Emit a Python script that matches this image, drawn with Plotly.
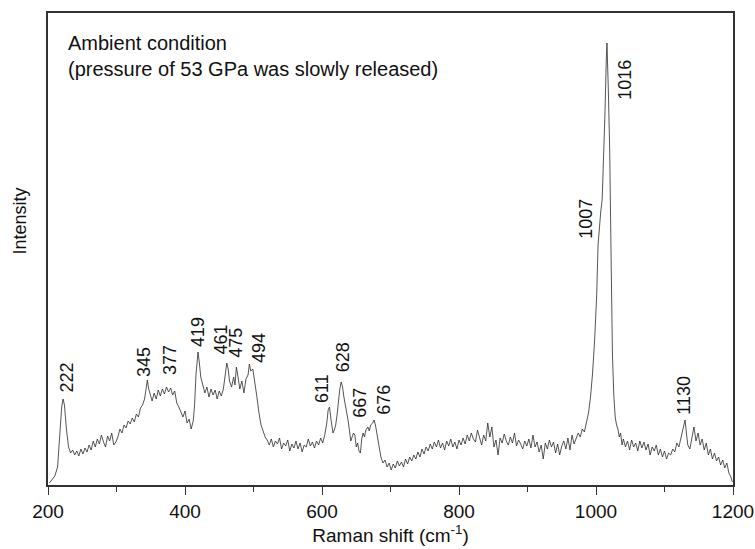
import plotly.graph_objects as go

# Raman spectrum (arbitrary intensity units)
raman_shift = [
    202, 206, 210, 214, 217, 220, 222, 224, 227, 230, 233, 236, 239,
    242, 245, 248, 251, 254, 257, 260, 263, 266, 269, 272, 275, 278, 281, 284, 287, 290, 293, 296, 299,
    302, 305, 308, 311, 314, 317, 320, 323, 326, 329, 332, 335, 338, 341, 343, 345, 347, 349,
    352, 355, 358, 361, 364, 367, 370, 373, 376, 379, 382, 385, 388, 391, 394, 397, 400, 403, 406, 409,
    412, 414, 416, 418, 419, 421, 423, 426,
    429, 432, 435, 438, 441, 444, 447, 450, 453, 456, 458, 461, 463, 465, 468, 471, 473, 475, 477, 480,
    483, 486, 489, 492, 494, 496, 499, 502,
    505, 508, 511, 514, 517, 520, 523, 526, 529, 532, 535, 538, 541, 544, 547, 550, 553, 556, 559, 562,
    565, 568, 571, 574, 577, 580, 583, 586, 589, 592, 595, 598, 601, 604, 607, 609, 611, 613, 616, 618,
    620, 622, 624, 626, 628, 630, 632, 634, 636, 638, 640, 642, 644, 646, 648, 650, 652, 654, 656, 658,
    660, 662, 664, 667, 669, 671, 674, 676, 678, 680, 682, 684, 686, 689, 692, 695, 698, 701, 704, 707,
    710, 713, 716, 719, 722, 725, 728, 731, 734, 737, 740, 743, 746, 749, 752, 755, 758,
    761, 764, 767, 770, 773, 776, 779, 782, 785, 788, 791, 794, 797, 800, 803, 806, 809, 812, 815, 818,
    821, 824, 827, 830, 833, 836, 839, 842, 845, 848, 851, 854, 857, 860, 863, 866, 869, 872, 875, 878,
    881, 884, 887, 890, 893, 896, 899, 902, 905, 908, 911, 914, 917, 920, 923, 926, 929, 932, 935, 938,
    941, 944, 947, 950, 953, 956, 959, 962, 965, 968, 971, 974, 977, 980, 983, 986, 989, 992, 995, 998,
    1001, 1003, 1005, 1007, 1009, 1011, 1013, 1015, 1016, 1018, 1020, 1022, 1024, 1026, 1028, 1030,
    1032, 1034, 1036, 1038, 1040, 1043, 1046, 1049, 1052, 1055, 1058, 1061, 1064, 1067, 1070, 1073,
    1076, 1079, 1082, 1085, 1088, 1091, 1094, 1097, 1100, 1103, 1106, 1109, 1112, 1115, 1118, 1121,
    1124, 1127, 1130, 1132, 1134, 1137, 1140, 1143, 1146, 1149, 1152, 1155, 1158, 1161, 1164, 1167,
    1170, 1173, 1176, 1179, 1182, 1185, 1188, 1191, 1194, 1197, 1199,
]
intensity = [
    2, 5, 9, 18, 45, 78, 86, 80, 55, 38, 32, 35, 30,
    34, 29, 36, 31, 37, 33, 40, 35, 44, 38, 46, 41, 50, 43, 38, 49, 44, 52, 40, 43,
    48, 56, 52, 60, 57, 64, 61, 67, 63, 71, 68, 77, 80, 86, 98, 105, 96, 90,
    84, 92, 86, 95, 89, 96, 91, 98, 93, 97, 90, 94, 82, 78, 72, 68, 74, 62, 66, 56,
    64, 80, 110, 128, 133, 122, 108, 100,
    92, 98, 88, 96, 90, 95, 86, 94, 89, 96, 108, 122, 116, 104, 98, 108, 100, 118, 110, 96,
    104, 92, 106, 110, 121, 114, 116, 104,
    88, 72, 60, 54, 48, 45, 40, 46, 38, 44, 41, 47, 36, 42, 39, 45, 34, 41, 37, 44,
    36, 42, 33, 40, 38, 46, 39, 43, 37, 44, 40, 47, 42, 50, 62, 75, 78, 66, 52, 55,
    60, 70, 85, 96, 103, 98, 88, 80, 76, 65, 55, 44, 48, 52, 50, 38, 42, 34, 32, 46,
    52, 48, 55, 58, 54, 60, 62, 65, 60, 52, 42, 32, 28, 22, 25, 18, 22, 15, 21, 17,
    24, 19, 23, 18, 26, 21, 28, 24, 30, 26, 33, 28, 36, 31, 38, 34, 41,
    36, 43, 38, 45, 37, 42, 35, 44, 39, 46, 38, 43, 36, 45, 40, 47, 41, 50, 44, 52,
    46, 43, 55, 47, 40, 50, 44, 62, 48, 58, 38, 45, 30, 47, 42, 51, 44, 40, 48, 42,
    52, 39, 45, 41, 36, 44, 39, 46, 37, 50, 38, 43, 33, 40, 26, 42, 36, 45, 38, 43,
    32, 41, 30, 39, 44, 36, 47, 35, 50, 41, 46, 52, 48, 56, 53, 62, 72, 88, 112, 145,
    190, 240, 262, 274, 285, 320, 370, 425, 442, 395, 335, 230, 130, 90, 68, 60,
    56, 48, 52, 40, 46, 38, 44, 35, 45, 38, 42, 34, 44, 37, 43, 35,
    41, 30, 38, 34, 40, 30, 36, 28, 34, 26, 32, 30, 36, 33, 42, 38,
    48, 55, 65, 52, 40, 36, 48, 58, 44, 52, 40, 46, 35, 42, 30, 36,
    26, 32, 24, 28, 20, 25, 17, 22, 12, 8, 3,
]

# Peak labels: text and label position (x in cm^-1, y in intensity units)
peak_labels = ["222", "345", "377", "419", "461", "475", "494", "611", "628",
               "667", "676", "1007", "1016", "1130"]
label_x = [227, 340, 378, 419, 452, 474, 508, 600, 631, 655, 690, 985, 1042, 1128]
label_y = [107, 123, 125, 153, 145, 142, 137, 96, 128, 82, 85, 266, 405, 90]

x_ticks = [200, 400, 600, 800, 1000, 1200]

FONT = "Liberation Sans, Arial"

fig = go.Figure()
fig.add_trace(go.Scatter(
    x=raman_shift, y=intensity, mode="lines",
    line=dict(color="#2a2a2a", width=0.8),
    showlegend=False, hoverinfo="skip",
))

for t, lx, ly in zip(peak_labels, label_x, label_y):
    fig.add_annotation(x=lx, y=ly, xref="x", yref="y", text=t, showarrow=False,
                       textangle=-90, xanchor="center", yanchor="middle",
                       font=dict(family=FONT, size=18, color="#111"))

fig.add_annotation(xref="paper", yref="paper", x=0.026, y=0.965, xanchor="left", yanchor="top",
                   text="Ambient condition<br>(pressure of 53 GPa was slowly released)",
                   showarrow=False, align="left",
                   font=dict(family=FONT, size=20, color="#111"))

fig.update_layout(
    width=755, height=549,
    margin=dict(l=48, r=22, t=13, b=64, autoexpand=False),
    paper_bgcolor="white", plot_bgcolor="white",
    font=dict(family=FONT, size=19, color="#111"),
    xaxis=dict(
        range=[200, 1200], tickvals=x_ticks, ticks="outside", ticklen=8, tickwidth=1.2,
        tickcolor="#333", showline=True, linecolor="#333", linewidth=1.5, mirror=True,
        showgrid=False, zeroline=False, automargin=False, ticklabeloverflow="allow",
        minor=dict(dtick=100, ticks="outside", ticklen=5, tickwidth=1.2, tickcolor="#333", showgrid=False),
        title=dict(text="Raman shift (cm<sup>-1</sup>)", font=dict(size=19), standoff=8),
        tickfont=dict(size=19),
    ),
    yaxis=dict(
        range=[0, 472], showticklabels=False, ticks="", showline=True, linecolor="#333",
        linewidth=1.5, mirror=True, showgrid=False, zeroline=False, automargin=False,
    ),
)

fig.add_annotation(xref="paper", yref="paper", x=-0.041, y=0.56, text="Intensity", showarrow=False,
                   textangle=-90, xanchor="center", yanchor="middle",
                   font=dict(family=FONT, size=18, color="#111"))

fig.write_html("out.html")
